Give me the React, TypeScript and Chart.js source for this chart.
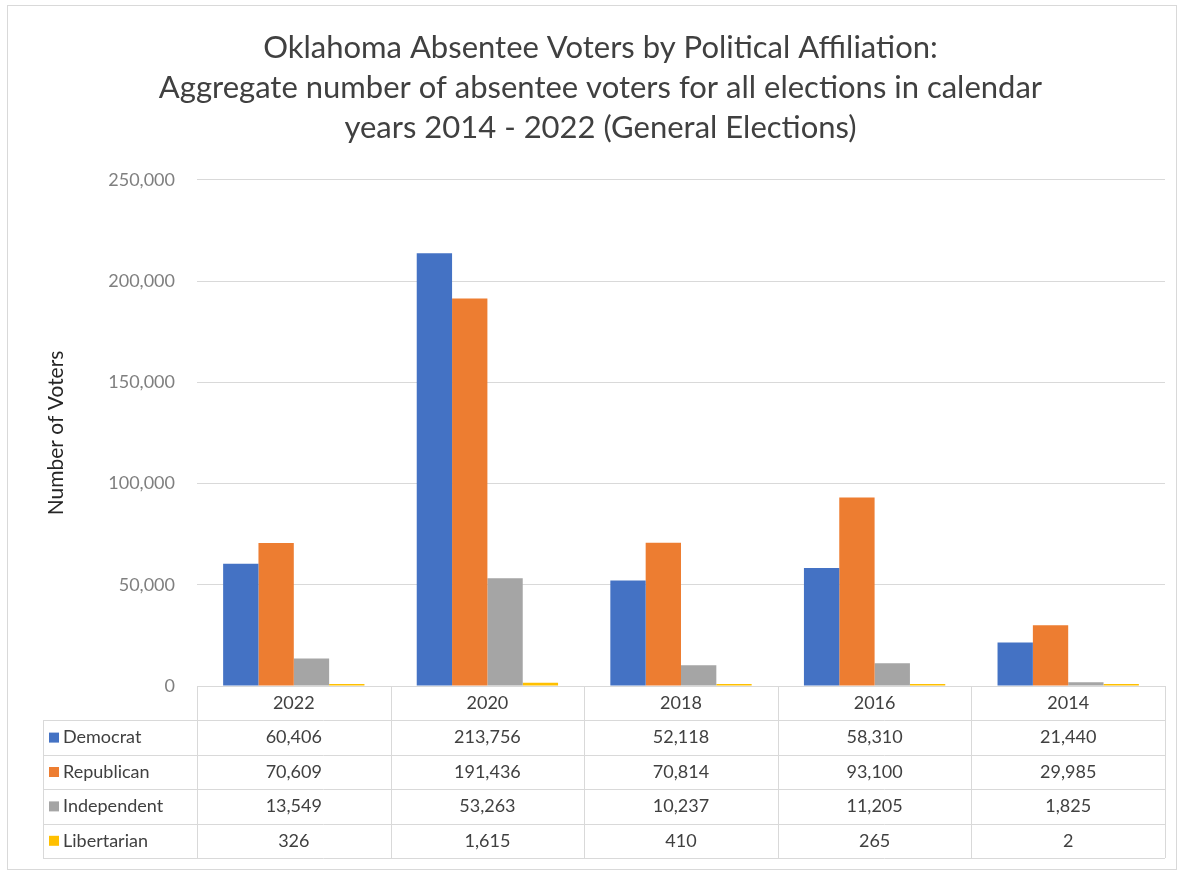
import React, { useEffect, useRef } from 'react';
import { Chart, registerables } from 'chart.js';

Chart.register(...registerables);

const categories = ['2022', '2020', '2018', '2016', '2014'];
const democrat = [60406, 213756, 52118, 58310, 21440];
const republican = [70609, 191436, 70814, 93100, 29985];
const independent = [13549, 53263, 10237, 11205, 1825];
const libertarian = [326, 1615, 410, 265, 2];
const seriesNames = ['Democrat', 'Republican', 'Independent', 'Libertarian'];
const seriesColors = ['#4472C4', '#ED7D31', '#A5A5A5', '#FFC000'];
const titleLines = [
  'Oklahoma Absentee Voters by Political Affiliation:',
  'Aggregate number of absentee voters for all elections in calendar',
  'years 2014 - 2022 (General Elections)',
];
const yAxisTitle = 'Number of Voters';
const yMax = 250000;
const yStep = 50000;

const FONT = 'Lato';
const fmt = (v: number) => v.toLocaleString('en-US');

const tablePlugin = {
  id: 'dataTable',
  afterLayout(chart: any) {
    if (chart.titleBlock) {
      chart.titleBlock.left += 36;
    }
  },
  beforeDraw(chart: any) {
    const ctx = chart.ctx;
    ctx.save();
    ctx.fillStyle = '#ffffff';
    ctx.fillRect(0, 0, chart.width, chart.height);
    ctx.strokeStyle = '#d9d9d9';
    ctx.lineWidth = 1;
    ctx.strokeRect(7.5, 5.5, chart.width - 10, chart.height - 8);
    ctx.restore();
  },
  afterDraw(chart: any) {
    const ctx = chart.ctx;
    const xs = chart.scales.x;
    const left = xs.left;
    const right = xs.right;
    const n = categories.length;
    const colW = (right - left) / n;
    const top = chart.chartArea.bottom;
    const rowH = 34.4;
    const labelLeft = 43;
    const allSeries = [democrat, republican, independent, libertarian];
    const px = (v: number) => Math.round(v) + 0.5;

    ctx.save();
    ctx.strokeStyle = '#d9d9d9';
    ctx.lineWidth = 1;
    ctx.beginPath();
    ctx.moveTo(left, px(top));
    ctx.lineTo(right, px(top));
    for (let k = 1; k <= 5; k++) {
      const y = px(top + k * rowH);
      ctx.moveTo(labelLeft, y);
      ctx.lineTo(right, y);
    }
    ctx.moveTo(px(labelLeft), top + rowH);
    ctx.lineTo(px(labelLeft), top + 5 * rowH);
    for (let i = 0; i <= n; i++) {
      const x = px(left + i * colW);
      ctx.moveTo(x, top);
      ctx.lineTo(x, top + 5 * rowH);
    }
    ctx.stroke();

    ctx.font = `18px ${FONT}`;
    ctx.textBaseline = 'middle';
    ctx.textAlign = 'center';
    ctx.fillStyle = '#404040';
    categories.forEach((c, i) => {
      ctx.fillText(c, left + (i + 0.5) * colW, top + rowH / 2);
    });
    allSeries.forEach((arr, r) => {
      const yc = top + (r + 1.5) * rowH;
      ctx.textAlign = 'center';
      ctx.fillStyle = '#404040';
      arr.forEach((v, i) => {
        ctx.fillText(fmt(v), left + (i + 0.5) * colW, yc);
      });
      ctx.fillStyle = seriesColors[r];
      ctx.fillRect(labelLeft + 6, yc - 5, 10, 10);
      ctx.textAlign = 'left';
      ctx.fillStyle = '#404040';
      ctx.fillText(seriesNames[r], labelLeft + 20, yc);
    });
    ctx.restore();
  },
};

export default function App() {
  const ref = useRef<HTMLCanvasElement>(null);
  useEffect(() => {
    document.body.style.margin = '0';
    const series = [democrat, republican, independent, libertarian];
    const chart = new Chart(ref.current as HTMLCanvasElement, {
      type: 'bar',
      data: {
        labels: categories,
        datasets: series.map((d, i) => ({
          label: seriesNames[i],
          data: d,
          backgroundColor: seriesColors[i],
          barPercentage: 1,
          categoryPercentage: 0.73,
          minBarLength: i === 3 ? 2 : 0,
        })),
      },
      options: {
        animation: false,
        responsive: false,
        layout: { padding: { top: 20, left: 0, right: 14, bottom: 186 } },
        plugins: {
          legend: { display: false },
          tooltip: { enabled: false },
          title: {
            display: true,
            text: titleLines,
            color: '#404040',
            font: { family: FONT, size: 31, weight: 'normal', lineHeight: 1.29 },
            padding: { top: 8, bottom: 32 },
          },
        },
        scales: {
          x: { display: false },
          y: {
            min: 0,
            max: yMax,
            ticks: {
              stepSize: yStep,
              color: '#7f7f7f',
              padding: 22,
              font: { family: FONT, size: 18 },
              callback: (v: any) => fmt(Number(v)),
            },
            grid: { color: '#d9d9d9', drawTicks: false },
            border: { display: false },
            title: {
              display: true,
              text: yAxisTitle,
              color: '#262626',
              font: { family: FONT, size: 21 },
              padding: { top: 44, bottom: 0 },
            },
            afterFit: (s: any) => {
              s.width = 197;
            },
          },
        },
      },
      plugins: [tablePlugin],
    });
    return () => chart.destroy();
  }, []);
  return <canvas ref={ref} width={1179} height={872} style={{ display: 'block' }} />;
}
